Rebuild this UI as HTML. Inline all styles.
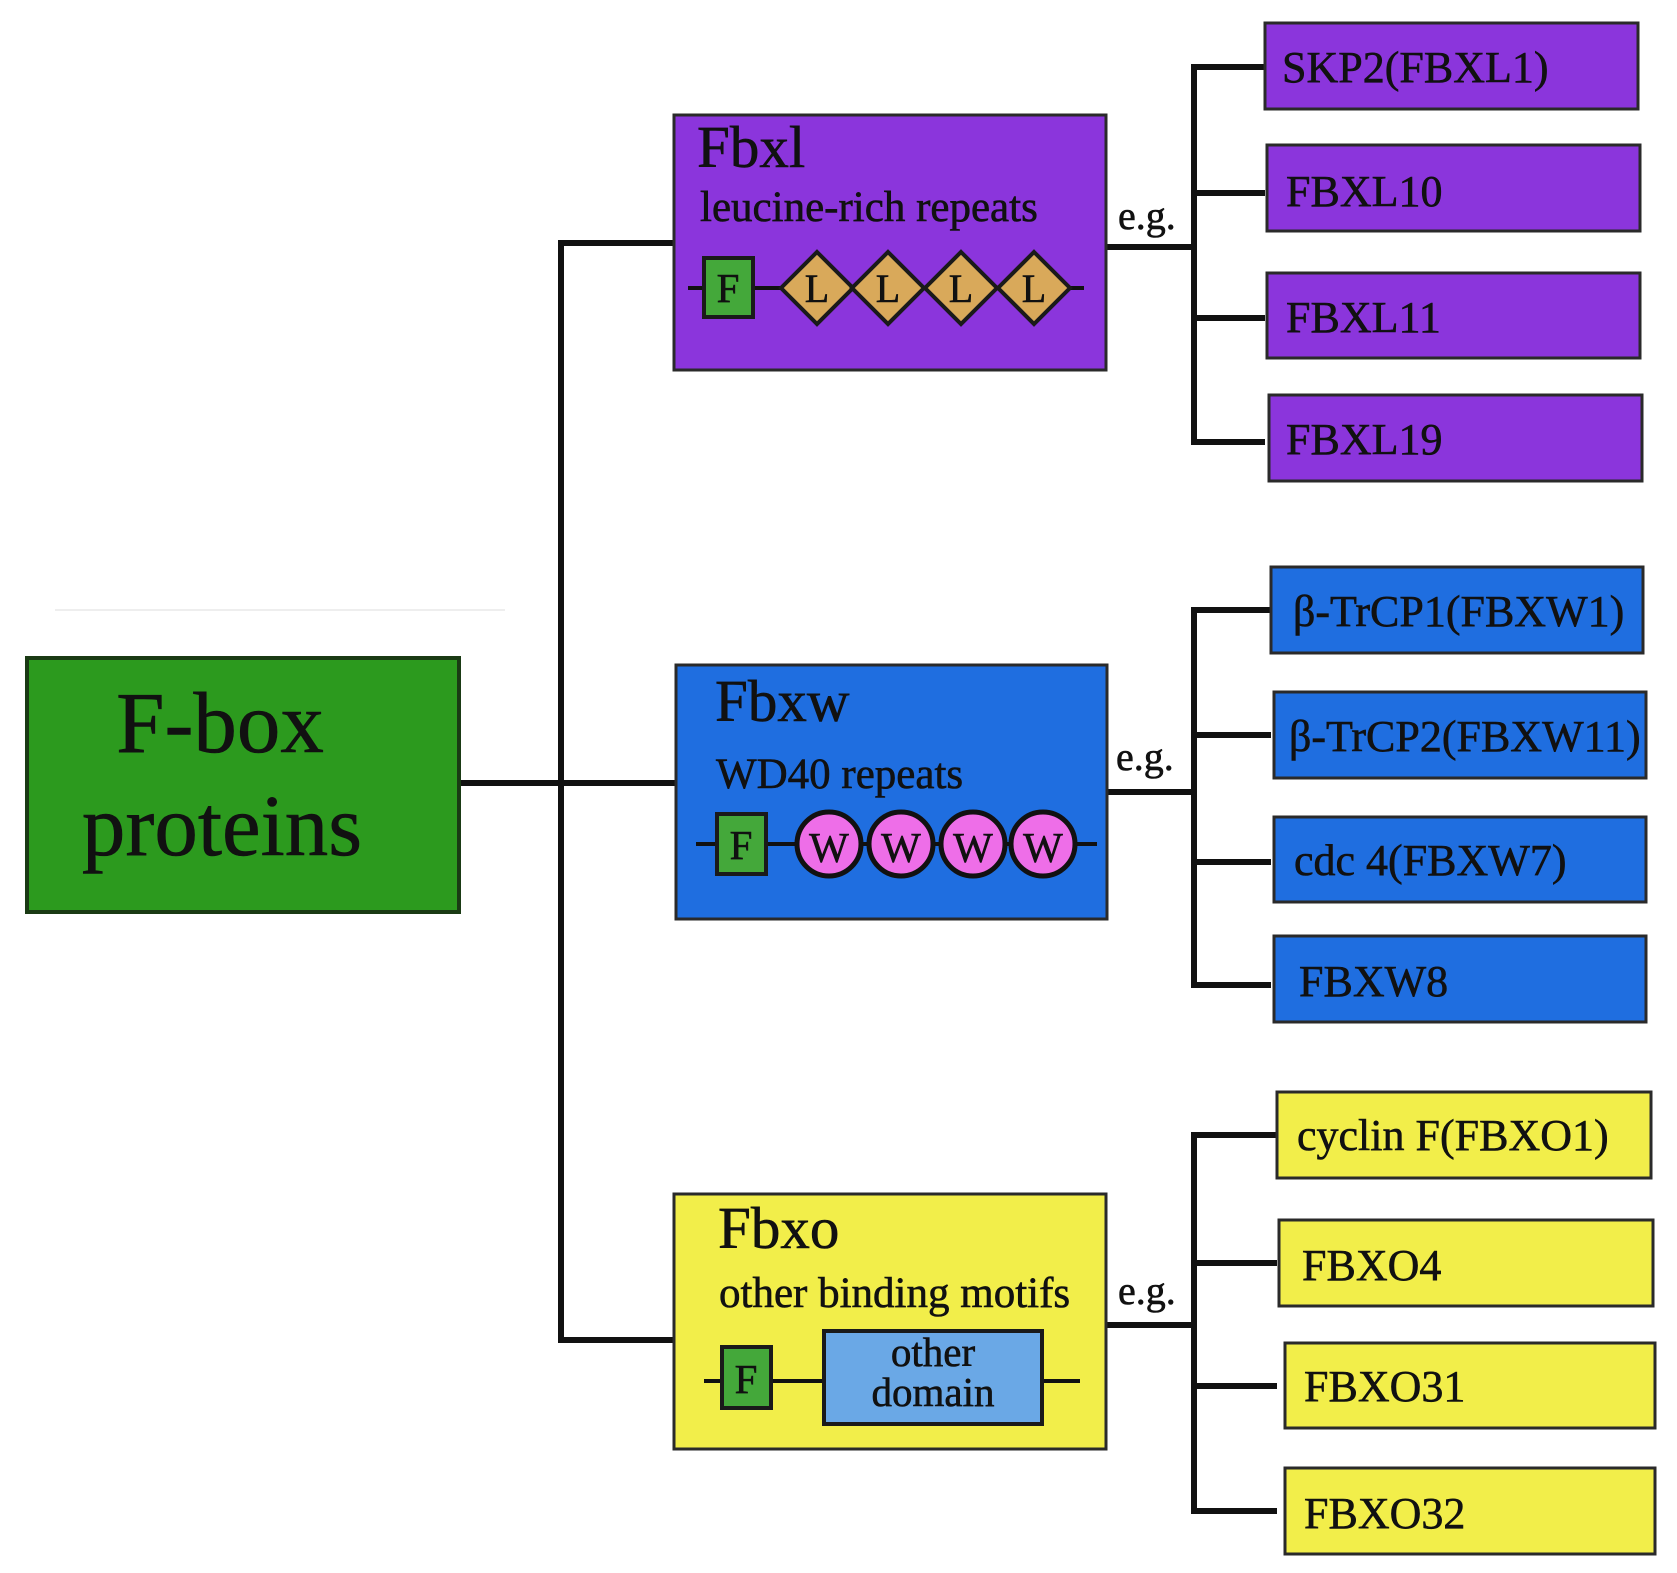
<!DOCTYPE html>
<html><head><meta charset="utf-8"><style>
html,body{margin:0;padding:0;background:#fff}
svg{display:block}
text{font-family:"Liberation Serif",serif;fill:#111;stroke:#111;stroke-width:0.6}
</style></head><body>
<svg width="1677" height="1573" viewBox="0 0 1677 1573" xmlns="http://www.w3.org/2000/svg">
<line x1="55" y1="610" x2="505" y2="610" stroke="#eee" stroke-width="2"/>
<g stroke="#111" stroke-width="6" fill="none">
<line x1="459" y1="783" x2="676" y2="783"/>
<polyline points="674,243 561,243 561,1340 674,1340"/>
<line x1="1106" y1="247" x2="1194" y2="247"/>
<polyline points="1265,67 1194,67 1194,442 1265,442"/>
<line x1="1194" y1="193" x2="1265" y2="193"/>
<line x1="1194" y1="318" x2="1265" y2="318"/>
<line x1="1107" y1="792" x2="1194" y2="792"/>
<polyline points="1271,610 1194,610 1194,985 1271,985"/>
<line x1="1194" y1="735" x2="1271" y2="735"/>
<line x1="1194" y1="862" x2="1271" y2="862"/>
<line x1="1106" y1="1325" x2="1194" y2="1325"/>
<polyline points="1277,1135 1194,1135 1194,1511 1277,1511"/>
<line x1="1194" y1="1263" x2="1277" y2="1263"/>
<line x1="1194" y1="1386" x2="1277" y2="1386"/>
</g>
<rect x="27" y="658" width="432" height="254" fill="#2c9a1e" stroke="#1a3a14" stroke-width="4"/>
<text x="220" y="752" font-size="87" text-anchor="middle">F-box</text>
<text x="222" y="855" font-size="87" text-anchor="middle">proteins</text>

<rect x="674" y="115" width="432" height="255" fill="#8b35dc" stroke="#2a2a2a" stroke-width="3"/>
<text x="697" y="167" font-size="59">Fbxl</text>
<text x="700" y="221" font-size="43">leucine-rich repeats</text>
<line x1="688" y1="288" x2="1084" y2="288" stroke="#111" stroke-width="4"/>
<rect x="704" y="258" width="49" height="59" fill="#44a83a" stroke="#1a1a1a" stroke-width="4"/>
<text x="728" y="302" font-size="41" text-anchor="middle">F</text>
<g fill="#d9a95a" stroke="#1a1a1a" stroke-width="4">
<polygon points="817,252 853,288 817,324 781,288"/>
<polygon points="888,252 924,288 888,324 852,288"/>
<polygon points="961,252 997,288 961,324 925,288"/>
<polygon points="1034,252 1070,288 1034,324 998,288"/>
</g>
<g font-size="40" text-anchor="middle"><text x="817" y="302">L</text><text x="888" y="302">L</text><text x="961" y="302">L</text><text x="1034" y="302">L</text></g>

<rect x="676" y="665" width="431" height="254" fill="#1f6ee0" stroke="#2a2a2a" stroke-width="3"/>
<text x="715" y="721" font-size="59">Fbxw</text>
<text x="716" y="788" font-size="43">WD40 repeats</text>
<line x1="696" y1="844" x2="1097" y2="844" stroke="#111" stroke-width="4"/>
<rect x="717" y="814" width="49" height="60" fill="#44a83a" stroke="#1a1a1a" stroke-width="4"/>
<text x="741" y="859" font-size="41" text-anchor="middle">F</text>
<g fill="#ee6ee8" stroke="#111" stroke-width="5">
<circle cx="829" cy="844" r="32"/><circle cx="901" cy="844" r="32"/><circle cx="973" cy="844" r="32"/><circle cx="1043" cy="844" r="32"/>
</g>
<g font-size="42" text-anchor="middle"><text x="829" y="862">W</text><text x="901" y="862">W</text><text x="973" y="862">W</text><text x="1043" y="862">W</text></g>

<rect x="674" y="1194" width="432" height="255" fill="#f2ee4a" stroke="#2a2a2a" stroke-width="3"/>
<text x="718" y="1248" font-size="59">Fbxo</text>
<text x="719" y="1307" font-size="43">other binding motifs</text>
<line x1="704" y1="1381" x2="1080" y2="1381" stroke="#111" stroke-width="4"/>
<rect x="722" y="1347" width="49" height="61" fill="#44a83a" stroke="#1a1a1a" stroke-width="4"/>
<text x="746" y="1393" font-size="41" text-anchor="middle">F</text>
<rect x="824" y="1331" width="218" height="93" fill="#6aa8e6" stroke="#1a1a1a" stroke-width="4"/>
<text x="933" y="1366" font-size="41" text-anchor="middle">other</text>
<text x="933" y="1406" font-size="41" text-anchor="middle">domain</text>

<g font-size="40"><text x="1118" y="229">e.g.</text><text x="1116" y="770">e.g.</text><text x="1118" y="1304">e.g.</text></g>

<g stroke="#2a2a2a" stroke-width="3">
<rect x="1265" y="23" width="373" height="86" fill="#8b35dc"/>
<rect x="1267" y="145" width="373" height="86" fill="#8b35dc"/>
<rect x="1267" y="273" width="373" height="85" fill="#8b35dc"/>
<rect x="1269" y="395" width="373" height="86" fill="#8b35dc"/>
<rect x="1271" y="567" width="372" height="86" fill="#1f6ee0"/>
<rect x="1274" y="692" width="372" height="86" fill="#1f6ee0"/>
<rect x="1274" y="817" width="372" height="85" fill="#1f6ee0"/>
<rect x="1274" y="936" width="372" height="86" fill="#1f6ee0"/>
<rect x="1277" y="1092" width="374" height="86" fill="#f2ee4a"/>
<rect x="1279" y="1220" width="374" height="86" fill="#f2ee4a"/>
<rect x="1285" y="1343" width="370" height="85" fill="#f2ee4a"/>
<rect x="1285" y="1468" width="370" height="86" fill="#f2ee4a"/>
</g>
<g font-size="44">
<text x="1282" y="82">SKP2(FBXL1)</text>
<text x="1286" y="206">FBXL10</text>
<text x="1286" y="332">FBXL11</text>
<text x="1286" y="454">FBXL19</text>
<text x="1293" y="626">β-TrCP1(FBXW1)</text>
<text x="1289" y="751">β-TrCP2(FBXW11)</text>
<text x="1294" y="875">cdc 4(FBXW7)</text>
<text x="1299" y="996">FBXW8</text>
<text x="1297" y="1150">cyclin F(FBXO1)</text>
<text x="1302" y="1280">FBXO4</text>
<text x="1304" y="1401">FBXO31</text>
<text x="1304" y="1528">FBXO32</text>
</g>
</svg>
</body></html>
